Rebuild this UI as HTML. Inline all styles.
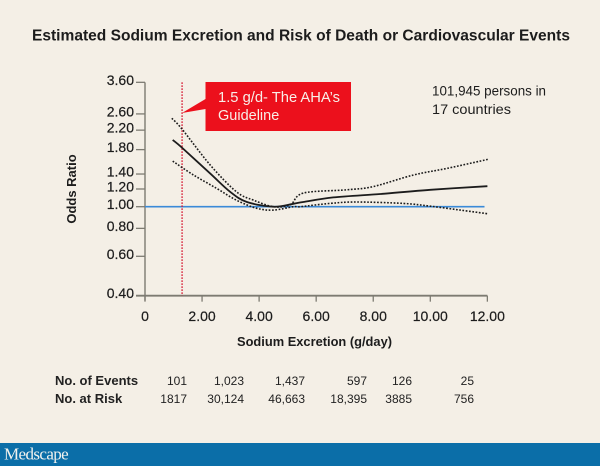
<!DOCTYPE html>
<html lang="en">
<head>
<meta charset="utf-8">
<title>Estimated Sodium Excretion and Risk of Death or Cardiovascular Events</title>
<style>
html,body{margin:0;padding:0;background:#f4efe6;}
#chart{display:block;width:600px;height:466px;font-family:"Liberation Sans",sans-serif;}
</style>
</head>
<body>
<svg id="chart" xmlns="http://www.w3.org/2000/svg" width="600" height="466" viewBox="0 0 600 466">
  <rect x="0" y="0" width="600" height="466" fill="#f4efe6"/>
  <text x="32" y="40.5" font-size="15.6" font-weight="bold" fill="#1c1c1c" textLength="538" lengthAdjust="spacingAndGlyphs">Estimated Sodium Excretion and Risk of Death or Cardiovascular Events</text>
  <g id="plot"></g>
  <g>
    <polygon points="205.5,82 351,82 351,131 205.5,131 205.5,109 182,113 205.5,99" fill="#ec101c"/>
    <text x="218" y="102" font-size="14.5" fill="#f8eee8" textLength="122" lengthAdjust="spacingAndGlyphs">1.5 g/d- The AHA’s</text>
    <text x="218" y="120" font-size="14.5" fill="#f8eee8">Guideline</text>
  </g>
  <g font-size="14" fill="#1c1c1c">
    <text x="432" y="95.5" textLength="114" lengthAdjust="spacingAndGlyphs">101,945 persons in</text>
    <text x="432" y="114" textLength="79" lengthAdjust="spacingAndGlyphs">17 countries</text>
  </g>
  <text transform="translate(76,189) rotate(-90)" text-anchor="middle" font-size="13" font-weight="bold" fill="#1c1c1c">Odds Ratio</text>
  <text x="237" y="346" font-size="13" font-weight="bold" fill="#1c1c1c" textLength="155" lengthAdjust="spacingAndGlyphs">Sodium Excretion (g/day)</text>
  <g id="risk-table" font-size="12" fill="#222">
    <text x="55" y="385" font-size="13" font-weight="bold">No. of Events</text>
    <text x="55" y="403" font-size="13" font-weight="bold">No. at Risk</text>
  </g>
  <rect x="0" y="443" width="600" height="23" fill="#0b6ea8"/>
  <text x="4" y="459.5" font-family="'Liberation Serif',serif" font-size="17" fill="#f2f2ee" letter-spacing="-0.6">Medscape</text>
</svg>
<script>
const xTickValues = [0, 2, 4, 6, 8, 10, 12];
const xTickLabels = ["0", "2.00", "4.00", "6.00", "8.00", "10.00", "12.00"];
const yTickValues = [3.6, 2.6, 2.2, 1.8, 1.4, 1.2, 1.0, 0.8, 0.6, 0.4];
const yTickLabels = ["3.60", "2.60", "2.20", "1.80", "1.40", "1.20", "1.00", "0.80", "0.60", "0.40"];
const guidelineValue = 1.3;
const referenceOddsRatio = 1.0;
const referenceEnd = 11.9;

const sodiumMean = [0.97, 1.29, 2.28, 2.98, 3.57, 4.5, 5.2, 5.55, 6.6, 8.25, 10, 12];
const oddsMean = [1.99, 1.84, 1.41, 1.167, 1.05, 1.0, 1.03, 1.05, 1.10, 1.14, 1.19, 1.235];
const sodiumUpper = [0.94, 1.29, 2.28, 3.2, 3.8, 4.5, 5.09, 5.55, 7.08, 8, 9.4, 10.6, 12.03];
const oddsUpper = [2.485, 2.23, 1.54, 1.167, 1.07, 1.0, 1.02, 1.15, 1.19, 1.23, 1.385, 1.485, 1.63];
const sodiumLower = [0.97, 1.7, 2.5, 3.2, 3.9, 4.5, 5.2, 5.45, 6.5, 7.4, 9.05, 10, 11.05, 12];
const oddsLower = [1.6, 1.386, 1.21, 1.07, 0.985, 0.966, 1.0, 1.0, 1.035, 1.05, 1.035, 1.005, 0.966, 0.93];

const eventCounts = ["101", "1,023", "1,437", "597", "126", "25"];
const riskCounts = ["1817", "30,124", "46,663", "18,395", "3885", "756"];
const tableColumnRight = [187, 244, 305, 367, 412, 474];

const NS = "http://www.w3.org/2000/svg";
const plot = document.getElementById("plot");
const table = document.getElementById("risk-table");

function xScale(v) { return 145 + v * 28.53; }
function yScale(v) { return 206.7 - Math.log(v) * 97.1; }

function make(tag, attrs, parent) {
  const el = document.createElementNS(NS, tag);
  for (const k in attrs) el.setAttribute(k, attrs[k]);
  parent.appendChild(el);
  return el;
}

function curvePath(xs, ys) {
  const p = xs.map((x, i) => [xScale(x), yScale(ys[i])]);
  let d = "M" + p[0][0].toFixed(1) + " " + p[0][1].toFixed(1);
  for (let i = 0; i < p.length - 1; i++) {
    const a = p[Math.max(i - 1, 0)], b = p[i], c = p[i + 1], e = p[Math.min(i + 2, p.length - 1)];
    const c1x = b[0] + (c[0] - a[0]) / 6, c1y = b[1] + (c[1] - a[1]) / 6;
    const c2x = c[0] - (e[0] - b[0]) / 6, c2y = c[1] - (e[1] - b[1]) / 6;
    d += "C" + c1x.toFixed(1) + " " + c1y.toFixed(1) + " " + c2x.toFixed(1) + " " + c2y.toFixed(1) + " " + c[0].toFixed(1) + " " + c[1].toFixed(1);
  }
  return d;
}

const yTop = yScale(yTickValues[0]);
const yBottom = yScale(yTickValues[yTickValues.length - 1]);
const axisColor = "#7d7b72";

const yAxisLine = make("line", {x1: xScale(0), x2: xScale(0), y1: yTop, y2: yBottom + 5, stroke: axisColor, "stroke-width": 1.4}, plot);



const xAxisLine = make("line", {x1: xScale(0) - 9, x2: xScale(12), y1: yBottom, y2: yBottom, stroke: axisColor, "stroke-width": 1.8}, plot);



yTickValues.forEach((v, i) => {
  const tick = make("line", {x1: xScale(0) - 9, x2: xScale(0), y1: yScale(v), y2: yScale(v), stroke: axisColor, "stroke-width": 1.3}, plot);
  
  
  const label = make("text", {x: 134, y: yScale(v) + 2.5, "text-anchor": "end", "font-size": 14, "stroke": "#1c1c1c", "stroke-width": 0.2, fill: "#1c1c1c"}, plot);
  
  
  label.textContent = yTickLabels[i];
});

xTickValues.forEach((v, i) => {
  const tick = make("line", {x1: xScale(v), x2: xScale(v), y1: yBottom, y2: yBottom + 6, stroke: axisColor, "stroke-width": 1.3}, plot);
  
  
  const label = make("text", {x: xScale(v), y: 321, "text-anchor": "middle", "font-size": 14, "stroke": "#1c1c1c", "stroke-width": 0.2, fill: "#1c1c1c"}, plot);
  
  
  label.textContent = xTickLabels[i];
});

const refLine = make("line", {x1: xScale(0), x2: xScale(referenceEnd), y1: yScale(referenceOddsRatio), y2: yScale(referenceOddsRatio), stroke: "#3a8ad8", "stroke-width": 1.6}, plot);



const guideLine = make("line", {x1: xScale(guidelineValue), x2: xScale(guidelineValue), y1: yTop, y2: yBottom, stroke: "#d5142e", "stroke-width": 1.4, "stroke-dasharray": "1.5 1.5"}, plot);



const upperLine = make("path", {d: curvePath(sodiumUpper, oddsUpper), fill: "none", stroke: "#1c1c1c", "stroke-width": 1.6, "stroke-dasharray": "1.7 1.6"}, plot);



const lowerLine = make("path", {d: curvePath(sodiumLower, oddsLower), fill: "none", stroke: "#1c1c1c", "stroke-width": 1.6, "stroke-dasharray": "1.7 1.6"}, plot);



const meanLine = make("path", {d: curvePath(sodiumMean, oddsMean), fill: "none", stroke: "#1c1c1c", "stroke-width": 1.8}, plot);



eventCounts.forEach((t, i) => {
  const cell = make("text", {x: tableColumnRight[i], y: 385, "text-anchor": "end"}, table);
  
  
  cell.textContent = t;
});
riskCounts.forEach((t, i) => {
  const cell = make("text", {x: tableColumnRight[i], y: 403, "text-anchor": "end"}, table);
  
  
  cell.textContent = t;
});
</script>
</body>
</html>
